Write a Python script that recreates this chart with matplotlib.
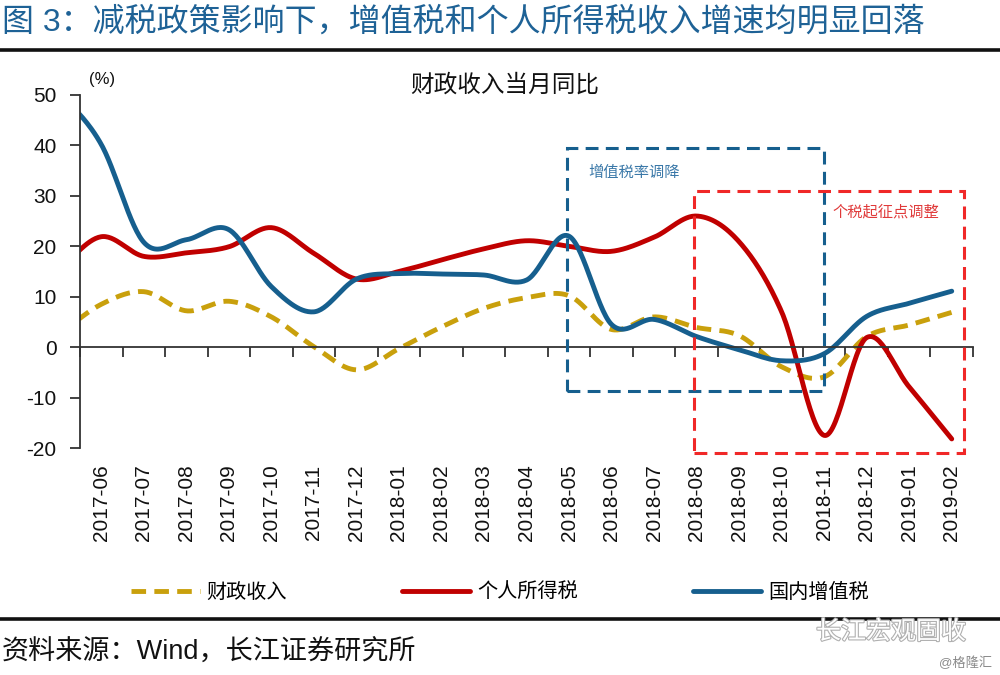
import numpy as np
import matplotlib
matplotlib.use('Agg')
import matplotlib.pyplot as plt
from matplotlib.patches import Rectangle
from matplotlib.lines import Line2D
import matplotlib.patheffects as pe

plt.rcParams['font.family'] = ['Liberation Sans', 'Noto Sans CJK SC', 'DejaVu Sans']

# ---- data (first entry 2017-05 is a lead-in point hidden behind the y axis) ----
months = ['2017-05', '2017-06', '2017-07', '2017-08', '2017-09', '2017-10', '2017-11',
          '2017-12', '2018-01', '2018-02', '2018-03', '2018-04', '2018-05', '2018-06',
          '2018-07', '2018-08', '2018-09', '2018-10', '2018-11', '2018-12', '2019-01',
          '2019-02']
fiscal = [2.5, 8.5, 11.0, 7.2, 9.1, 6.0, 0.1, -4.5, -0.3, 4.0, 7.7, 9.8, 10.2, 3.5,
          6.0, 3.9, 2.3, -3.9, -5.9, 2.1, 4.4, 6.9]
pit = [15.4, 21.9, 18.0, 18.7, 19.9, 23.7, 18.6, 13.5, 15.0, 17.3, 19.5, 21.1, 20.0,
       19.0, 21.8, 26.0, 20.9, 7.0, -17.5, 1.9, -7.9, -18.2]
vat = [50.9, 40.2, 20.8, 21.3, 23.3, 12.0, 7.0, 13.5, 14.6, 14.5, 14.3, 13.3, 22.0,
       4.5, 5.5, 2.1, -0.5, -2.7, -1.3, 6.1, 8.7, 11.1]
series_names = ['财政收入', '个人所得税', '国内增值税']
yticks = [50, 40, 30, 20, 10, 0, -10, -20]
vat_box = {'start': '2018-05', 'end': '2018-11', 'top': 39.5, 'bottom': -8.7, 'label': '增值税率调降'}
pit_box = {'start': '2018-08', 'end': '2019-02', 'top': 31.0, 'bottom': -21.0, 'label': '个税起征点调整'}

C_GOLD = '#C9A00C'
C_RED = '#C00000'
C_BLUE = '#165F8E'
C_BOXRED = '#F02828'


def smooth(x, y, n=30):
    """Catmull-Rom smoothing (like Excel's smoothed line)."""
    x = np.asarray(x, float)
    y = np.asarray(y, float)
    px = np.concatenate([[2 * x[0] - x[1]], x, [2 * x[-1] - x[-2]]])
    py = np.concatenate([[2 * y[0] - y[1]], y, [2 * y[-1] - y[-2]]])
    t = np.linspace(0, 1, n, endpoint=False)
    xs, ys = [], []
    for i in range(1, len(px) - 2):
        for arr, out in ((px, xs), (py, ys)):
            p0, p1, p2, p3 = arr[i - 1], arr[i], arr[i + 1], arr[i + 2]
            out.append(0.5 * ((2 * p1) + (-p0 + p2) * t + (2 * p0 - 5 * p1 + 4 * p2 - p3) * t ** 2
                              + (-p0 + 3 * p1 - 3 * p2 + p3) * t ** 3))
    xs.append([x[-1]])
    ys.append([y[-1]])
    return np.concatenate(xs), np.concatenate(ys)


pos = np.arange(len(months)) - 0.5   # 2017-06 sits at 0.5, category centres
shown = months[1:]
centres = pos[1:]

fig = plt.figure(figsize=(10, 6.75), dpi=100)
ax = fig.add_axes([0.08, 1 - 448 / 675, 0.893, (448 - 95) / 675])

lw = 3.5
for vals, col, ls, name in ((fiscal, C_GOLD, (0, (3.0, 1.7)), series_names[0]),
                            (pit, C_RED, '-', series_names[1]),
                            (vat, C_BLUE, '-', series_names[2])):
    sx, sy = smooth(pos, vals)
    ax.plot(sx, sy, color=col, lw=lw, linestyle=ls, label=name, solid_capstyle='round')

ax.set_xlim(0, 21)
ax.set_ylim(-20, 50)
ax.set_yticks(yticks)
ax.set_yticklabels([str(v) for v in yticks])
ax.tick_params(axis='y', length=7, width=1.3, direction='out', pad=10, labelsize=15,
               color='#333333', labelcolor='#111111')

for s in ('top', 'right'):
    ax.spines[s].set_visible(False)
ax.spines['left'].set_color('#333333')
ax.spines['left'].set_linewidth(1.3)
ax.spines['bottom'].set_position(('data', 0))
ax.spines['bottom'].set_color('#333333')
ax.spines['bottom'].set_linewidth(1.3)
ax.set_xticks(np.arange(0, 22))
ax.set_xticklabels([])
ax.tick_params(axis='x', length=7, width=1.3, direction='out', color='#333333')

sec = ax.secondary_xaxis(0.0)
sec.set_xticks(centres)
sec.set_xticklabels(shown, rotation=90, fontsize=15, color='#111111')
sec.tick_params(length=0, pad=12)
sec.spines['bottom'].set_visible(False)

# annotation boxes
idx = {m: p for m, p in zip(months, pos)}
for box, col in ((vat_box, C_BLUE), (pit_box, C_BOXRED)):
    x0 = idx[box['start']] - 0.05
    x1 = idx[box['end']] + (0.0 if box is vat_box else 0.3)
    r = Rectangle((x0, box['bottom']), x1 - x0, box['top'] - box['bottom'], fill=False,
                  edgecolor=col, lw=2.2, linestyle=(0, (4.2, 2.4)), clip_on=False, zorder=5)
    ax.add_patch(r)

ax.text(idx[vat_box['start']] + 0.45, vat_box['top'] - 4.9, vat_box['label'],
        fontsize=11, color='#3A78A8', ha='left', va='center')
ax.text(idx[pit_box['end']] - 0.3, pit_box['top'] - 4.3, pit_box['label'],
        fontsize=11, color='#E03A3A', ha='right', va='center')

ax.text(0.01, 1.045, '(%)', transform=ax.transAxes, fontsize=12, ha='left', va='center',
        color='#111111')
fig.text(0.505, 1 - 85 / 675, '财政收入当月同比', fontsize=17, ha='center', va='center',
         color='#111111')

# header and footer
fig.text(0.002, 1 - 22 / 675, '图 3：减税政策影响下，增值税和个人所得税收入增速均明显回落',
         fontsize=23, color='#1E6296', ha='left', va='center')
fig.add_artist(Line2D([0, 1], [1 - 50 / 675] * 2, color='#111111', lw=2.6))
fig.add_artist(Line2D([0, 1], [1 - 619 / 675] * 2, color='#111111', lw=2.6))
fig.text(0.002, 1 - 653 / 675, '资料来源：Wind，长江证券研究所', fontsize=19.5,
         color='#111111', ha='left', va='center')
fig.text(0.966, 1 - 632 / 675, '长江宏观固收', fontsize=18, color='white', ha='right',
         va='center', path_effects=[pe.withStroke(linewidth=1.6, foreground='#b0b0b0')])
fig.text(0.992, 1 - 663 / 675, '@格隆汇', fontsize=9.5, color='#8a8a8a', ha='right',
         va='center')

fig.legend(loc='center', bbox_to_anchor=(0.5, 1 - 592 / 675), ncol=3, frameon=False,
           fontsize=14.5, handlelength=3.4, handletextpad=0.35, columnspacing=5.7)

fig.savefig('out.png', dpi=100)
